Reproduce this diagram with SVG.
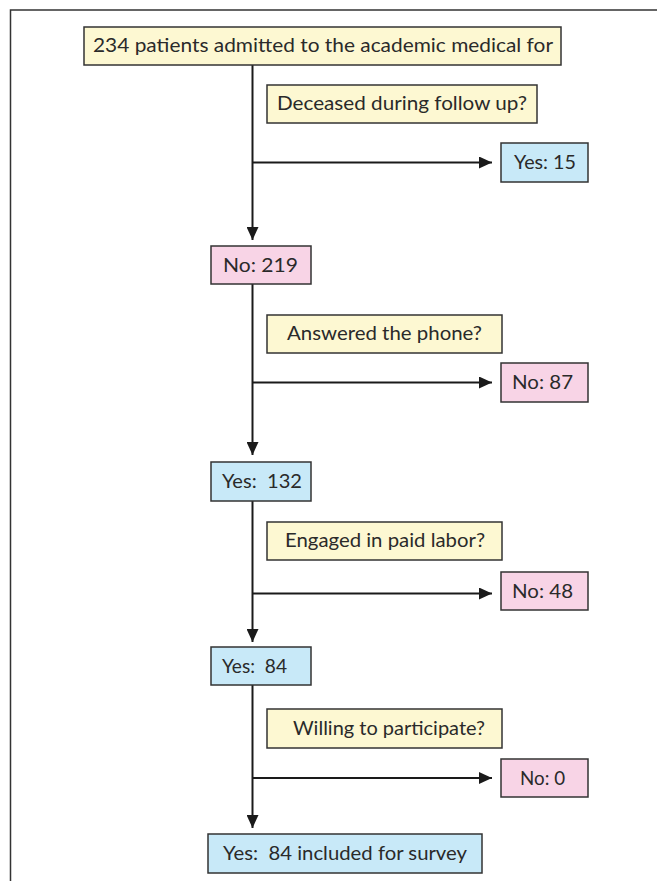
<svg xmlns="http://www.w3.org/2000/svg" width="657" height="881" viewBox="0 0 657 881">
<defs>
<style>
.q{fill:#fdf8d2;stroke:#333;stroke-width:1.5}
.p{fill:#f8d4e6;stroke:#333;stroke-width:1.5}
.b{fill:#c8e9f8;stroke:#333;stroke-width:1.5}
text{font-family:Lato,"Open Sans","Liberation Sans",sans-serif;font-size:19px;fill:#2a2a2a;white-space:pre}
.c{fill:none;stroke:#1a1a1a;stroke-width:2}
</style>
<marker id="ah" markerWidth="14" markerHeight="12" refX="13" refY="6" orient="auto" markerUnits="userSpaceOnUse">
<path d="M0,0 L13,6 L0,12 Z" fill="#1a1a1a"/>
</marker>
</defs>
<rect width="657" height="881" fill="#fff"/>
<path d="M10.5,881 V10 H657" fill="none" stroke="#333" stroke-width="1.5"/>
<g id="connectors">
<path class="c" d="M252.5,65 V240" marker-end="url(#ah)"/>
<path class="c" d="M252.5,162.5 H492" marker-end="url(#ah)"/>
<path class="c" d="M252.5,284 V455" marker-end="url(#ah)"/>
<path class="c" d="M252.5,382.5 H492" marker-end="url(#ah)"/>
<path class="c" d="M252.5,501 V642" marker-end="url(#ah)"/>
<path class="c" d="M252.5,593.5 H492" marker-end="url(#ah)"/>
<path class="c" d="M252.5,685 V828" marker-end="url(#ah)"/>
<path class="c" d="M252.5,778 H492" marker-end="url(#ah)"/>
</g>
<g id="start"><rect class="q" x="84" y="27" width="477" height="38"/><text x="93" y="52" textLength="460" lengthAdjust="spacingAndGlyphs">234 patients admitted to the academic medical for</text></g>
<g id="q1"><rect class="q" x="267" y="85" width="270" height="38"/><text x="277" y="110" textLength="250" lengthAdjust="spacingAndGlyphs">Deceased during follow up?</text></g>
<g id="yes15"><rect class="b" x="501" y="143" width="87" height="39"/><text x="514" y="169" textLength="62" lengthAdjust="spacingAndGlyphs">Yes: 15</text></g>
<g id="no219"><rect class="p" x="211" y="246" width="100" height="38"/><text x="223" y="272" textLength="75" lengthAdjust="spacingAndGlyphs">No: 219</text></g>
<g id="q2"><rect class="q" x="267" y="315" width="235" height="38"/><text x="287" y="340" textLength="195" lengthAdjust="spacingAndGlyphs">Answered the phone?</text></g>
<g id="no87"><rect class="p" x="501" y="363" width="87" height="39"/><text x="512" y="389" textLength="61" lengthAdjust="spacingAndGlyphs">No: 87</text></g>
<g id="yes132"><rect class="b" x="211" y="462" width="100" height="39"/><text x="222" y="488" textLength="80" lengthAdjust="spacingAndGlyphs">Yes:  132</text></g>
<g id="q3"><rect class="q" x="267" y="522" width="235" height="38"/><text x="285" y="547" textLength="200" lengthAdjust="spacingAndGlyphs">Engaged in paid labor?</text></g>
<g id="no48"><rect class="p" x="501" y="572" width="87" height="38"/><text x="512" y="598" textLength="61" lengthAdjust="spacingAndGlyphs">No: 48</text></g>
<g id="yes84"><rect class="b" x="211" y="647" width="100" height="38"/><text x="222" y="673" textLength="65" lengthAdjust="spacingAndGlyphs">Yes:  84</text></g>
<g id="q4"><rect class="q" x="267" y="709" width="235" height="39"/><text x="293" y="735" textLength="192" lengthAdjust="spacingAndGlyphs">Willing to participate?</text></g>
<g id="no0"><rect class="p" x="501" y="759" width="87" height="38"/><text x="520" y="785" textLength="45" lengthAdjust="spacingAndGlyphs">No: 0</text></g>
<g id="final"><rect class="b" x="208" y="834" width="274" height="39"/><text x="223" y="860" textLength="244" lengthAdjust="spacingAndGlyphs">Yes:  84 included for survey</text></g>
</svg>
